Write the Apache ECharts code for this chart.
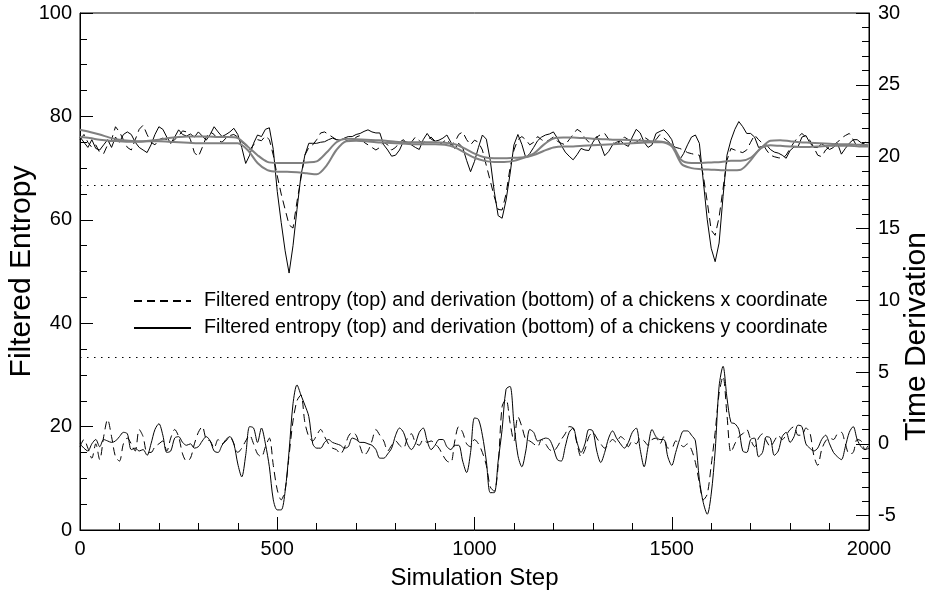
<!DOCTYPE html>
<html><head><meta charset="utf-8">
<script src="https://cdn.jsdelivr.net/npm/echarts@6/dist/echarts.min.js"></script>
<style>html,body{margin:0;padding:0;background:#fff}#c{width:935px;height:593px}</style>
</head><body><div id="c"></div>
<script>
// sampling interval (simulation steps) of the black curves and of the gray smoothed curves
const STEP = 10;
const GRAY_STEP = 25;

const xTickLabels = [0, 500, 1000, 1500, 2000];
const leftTickLabels = [0, 20, 40, 60, 80, 100];
const rightTickLabels = [-5, 0, 5, 10, 15, 20, 25, 30];
const thresholds = [66.67, 33.33];

const legendNames = [
  'Filtered entropy (top) and derivation (bottom) of a chickens x coordinate',
  'Filtered entropy (top) and derivation (bottom) of a chickens y coordinate'
];

// filtered entropy, x coordinate (dashed), steps 0..2000 every 10
const entropyX = [
  75.5, 76.5, 75.0, 74.0, 74.5, 73.0, 72.8, 74.5, 75.5, 78.0,
  77.0, 75.5, 74.0, 73.5, 75.5, 77.5, 78.3, 76.5, 75.0, 74.5,
  75.5, 75.8, 75.5, 74.8, 75.5, 76.2, 77.2, 77.0, 75.5, 73.0,
  72.2, 74.0, 76.0, 77.0, 76.5, 75.4, 75.0, 75.8, 76.3, 76.5,
  76.0, 75.0, 74.5, 73.5, 74.5, 75.5, 75.3, 76.2, 75.5, 72.5,
  68.5, 65.0, 62.0, 59.0, 58.4, 63.5, 68.0, 72.5, 74.0, 74.5,
  75.5, 76.8, 77.0, 76.5, 76.0, 75.5, 75.4, 75.6, 75.2, 75.0,
  76.0, 76.3, 75.0, 74.5, 74.0, 73.5, 74.0, 75.0, 74.5, 73.5,
  74.0, 75.0, 75.5, 74.5, 75.0, 76.0, 75.3, 74.8, 75.5, 76.0,
  75.2, 74.5, 75.0, 75.6, 74.5, 75.0, 76.5, 77.0, 75.5, 74.5,
  75.4, 75.0, 73.5, 70.5, 67.5, 64.5, 62.0, 61.9, 65.0, 70.0,
  73.5, 75.5, 76.1, 75.5, 74.5, 75.0, 76.1, 75.5, 75.0, 75.5,
  76.0, 75.2, 74.8, 74.5, 75.5, 76.5, 77.5, 77.0, 75.8, 75.0,
  75.4, 76.0, 76.5, 76.7, 75.6, 75.0, 74.6, 75.2, 76.0, 75.5,
  74.8, 75.0, 75.6, 76.0, 75.5, 74.8, 75.5, 76.5, 75.8, 75.2,
  74.5, 74.0, 73.8, 73.5, 73.0, 72.8, 72.6, 72.5, 68.5, 63.5,
  58.0, 57.0, 60.5, 66.0, 71.5, 73.8, 73.5, 73.2, 73.0, 73.5,
  75.0, 76.4, 75.5, 74.8, 73.5, 72.5, 72.2, 72.0, 71.9, 72.5,
  73.8, 75.0, 76.0, 76.7, 76.0, 75.4, 74.0, 72.5, 72.2, 73.5,
  74.1, 74.5, 75.0, 75.8, 76.3, 76.7, 75.5, 74.1, 74.5, 75.0,
  74.8
];

// filtered entropy, y coordinate (solid)
const entropyY = [
  76.0, 75.0, 74.0, 75.5, 73.8, 73.5, 74.5, 75.5, 74.0, 76.0,
  75.0, 76.5, 77.0, 76.5, 75.0, 74.0, 73.5, 73.0, 74.5, 76.5,
  78.0, 77.5, 76.0, 74.8, 76.0, 77.4, 76.5, 76.2, 76.6, 76.0,
  77.0, 76.2, 75.4, 76.5, 78.0, 77.0, 76.1, 76.5, 77.0, 77.7,
  76.5, 74.0, 70.9, 72.5, 74.8, 76.4, 76.1, 77.5, 77.8, 73.6,
  65.5, 59.5, 54.0, 49.7, 55.0, 62.0, 68.5, 72.5, 74.8, 74.8,
  74.8, 75.0, 75.1, 75.5, 75.8, 75.5, 75.4, 75.8, 76.1, 76.1,
  76.5, 76.7, 77.1, 77.4, 77.0, 76.8, 76.8, 74.5, 73.5, 72.3,
  72.5, 73.5, 75.2, 75.0, 74.5, 74.0, 73.6, 75.5, 76.7, 75.6,
  75.2, 75.4, 75.8, 76.4, 75.0, 73.8, 74.8, 74.0, 71.5, 69.3,
  71.3, 74.0, 76.4, 75.6, 71.5, 65.5, 60.8, 60.3, 63.8, 68.8,
  74.5, 76.5, 74.6, 72.0, 72.8, 74.0, 75.3, 76.0, 76.4, 76.6,
  77.0, 75.8, 74.4, 73.1, 72.3, 71.6, 72.6, 73.8, 73.5, 73.4,
  75.0, 76.1, 74.5, 72.4, 73.2, 74.5, 75.0, 75.3, 74.6, 74.2,
  76.0, 77.5, 76.8, 75.0, 74.0, 74.5, 76.7, 77.1, 77.4, 76.6,
  75.5, 73.0, 71.6, 72.8, 74.5, 76.0, 76.4, 74.8, 67.5, 60.0,
  54.5, 51.9, 55.5, 64.5, 72.5, 75.4, 77.5, 79.0, 78.0, 76.7,
  76.7, 76.0, 74.0, 74.2, 74.5, 73.6, 73.1, 72.9, 72.5, 71.9,
  73.4, 74.1, 74.1, 76.0, 76.3, 74.9, 74.0, 74.0, 74.7, 74.2,
  73.6, 74.0, 74.8, 72.7, 73.8, 74.8, 75.5, 75.5, 74.9, 74.6,
  74.3
];

// time derivation, x coordinate (dashed)
const derivX = [
  -0.2, 0.3, -0.3, -1.0, 0.0, -1.1, 0.5, 1.7, 0.5, -0.9,
  -1.2, 0.0, 0.4, 0.0, -0.5, 1.0, 0.5, -0.6, -0.6, -0.2,
  0.0, 0.2, -0.5, 0.4, 1.0, 0.5, -0.7, -1.2, -1.0, 0.0,
  0.8, 1.2, 0.3, 0.2, -0.3, 0.3, 0.0, 0.2, 0.5, 0.0,
  -0.6, -0.3, 0.2, 0.6, 0.0, -0.7, -0.9, -0.2, 0.4, -1.5,
  -3.2, -3.9, -3.2, -0.8, 1.6, 3.0, 3.4, 1.5, 0.5, 0.2,
  0.6, 1.0, 0.5, 0.0, -0.3, -0.4, -0.7, -0.3, 0.5, 0.8,
  0.6, -0.2, -0.8, -0.5, 0.2, 1.0, 0.6, 0.2, -0.5, -0.1,
  0.2, -0.1, -0.3, 0.4, 0.7, 0.1, -0.1, 0.3, 0.1, 0.2,
  0.0, -0.3, -0.8, -1.2, -1.3, 0.2, 1.2, 0.8, 0.0, -0.2,
  0.3, 0.0, -0.6, -1.5, -3.0, -3.3, -1.5, 2.6, 3.1, 1.5,
  0.2, 1.9, 1.2, 0.3, 0.2, 0.0, -0.2, 0.3, 0.0, -0.4,
  -0.5, -0.2, 0.3, 0.7, 1.2, 1.1, 0.0, -0.9, -0.4, 0.5,
  0.8, 0.4, 0.0, -0.3, 0.0, 0.3, 0.1, 0.5, 0.3, -0.2,
  0.2, 0.0, 0.4, 0.2, -0.1, 0.3, 0.4, 0.0, 0.5, -0.3,
  -0.3, 0.2, 0.0, -0.2, 0.0, -0.4, -1.3, -2.7, -3.9, -3.5,
  -1.5, 0.8, 3.5, 4.7, 2.0, -0.6, 0.0, 0.5, 0.7, 1.0,
  0.3, -0.2, 0.4, 0.7, 0.2, -0.2, 0.2, 0.6, 0.3, 0.6,
  1.0, 1.2, 0.6, 0.6, 1.1, 0.8, -0.8, -1.5, -0.4, 0.2,
  0.4, 0.3, 0.7, 0.8, 0.0, -0.7, -0.6, 0.3, 0.2, -0.4,
  0.0
];

// time derivation, y coordinate (solid)
const derivY = [
  0.0, -0.3, -0.5, 0.0, 0.3, -0.2, 0.3, 0.2, 0.1, 0.2,
  0.5, 0.8, 0.7, -0.4, -0.3, -0.5, -0.4, -0.8, 0.0, 1.0,
  1.4, 0.6, -0.6, -0.5, 0.4, 0.5, 0.1, -0.1, 0.0, -0.3,
  -0.2, 0.2, 0.5, 0.2, -0.5, -0.6, -0.1, 0.3, 0.5, 0.0,
  -1.4, -2.3, -0.8, 1.2, 1.1, 0.1, 1.1, 0.0, -1.6, -3.9,
  -4.6, -4.6, -3.3, -0.5, 2.8, 4.1, 3.4, 2.7, 1.9, 0.0,
  -0.3, -0.3, 0.1, 0.3, 0.1, 0.0, -0.1, -0.3, -0.2, 0.4,
  0.3, 0.1, 0.1, 0.0, -0.1, -0.4, -1.0, -1.0, -0.7, -0.3,
  0.6, 1.1, 0.8, 0.0, -0.4, 0.0, 0.8, 1.1, 0.2, -0.4,
  -0.1, 0.3, 0.3, -0.2, -0.4, -0.1, -0.1, -1.2, -2.0, -0.6,
  1.8, 1.7, 0.6, -1.2, -3.4, -3.4, -1.2, 1.0, 3.8, 4.0,
  1.4, -0.8, -1.6, -0.5, 1.0, 0.8, 0.2, 0.3, 0.4, 0.3,
  -0.3, -1.1, -1.2, -0.2, 0.8, 1.1, 0.1, -0.6, 0.0, 1.0,
  0.9, -0.5, -1.3, -0.6, 0.4, 0.9, 0.4, 0.0, -0.3, 0.1,
  0.8, 1.1, -0.4, -1.6, -0.2, 1.0, 0.5, 0.3, 0.3, -0.9,
  -1.5, -0.6, 0.3, 0.9, 0.9, 0.6, 0.2, -2.5, -4.1, -4.9,
  -3.5, -0.5, 4.0, 5.4, 3.2, 1.5, 1.4, 1.0, -0.5, -0.6,
  0.3, 0.4, -0.9, -0.6, 0.5, 0.4, -0.8, -0.5, 0.5, 0.8,
  0.1, 0.5, 1.3, 1.2, 0.0, -0.3, -0.5, -0.3, 0.3, 0.6,
  0.0, -0.6, -0.9, -1.1, -0.2, 0.8, 1.2, 0.3, -0.2, -0.4,
  -0.3
];

// gray smoothed entropy curves, steps 0..2000 every 25
const smoothUpper = [
  77.4, 77.0, 76.5, 75.9, 75.5, 75.3, 75.2, 75.3,
  75.5, 75.8, 76.0, 76.1, 76.1, 76.1, 76.0, 76.0,
  75.8, 74.2, 72.5, 71.2, 71.0, 71.0, 71.0, 71.1,
  71.3, 73.0, 75.0, 75.7, 75.6, 75.5, 75.4, 75.3,
  75.1, 75.0, 75.0, 75.0, 75.0, 74.9, 74.6, 73.8,
  72.8, 72.1, 71.9, 71.9, 72.0, 72.1, 72.8, 74.5,
  75.7, 75.9, 75.9, 75.8, 75.7, 75.6, 75.5, 75.5,
  75.4, 75.3, 75.2, 75.1, 74.5, 71.5, 71.0, 71.0,
  71.1, 71.2, 71.4, 71.4, 72.0, 73.8, 75.3, 75.4,
  75.2, 75.0, 74.9, 74.8, 74.7, 74.6, 74.6, 74.5,
  74.4
];
const smoothLower = [
  76.0, 75.8, 75.5, 75.3, 75.2, 75.1, 75.1, 75.2,
  75.2, 75.1, 75.0, 74.9, 74.8, 74.8, 74.8, 74.8,
  74.8, 73.5, 71.0, 69.6, 69.3, 69.3, 69.2, 69.0,
  68.8, 70.5, 73.5, 75.2, 75.3, 75.2, 75.0, 74.9,
  74.8, 74.7, 74.6, 74.6, 74.6, 74.5, 74.0, 73.0,
  72.0, 71.4, 71.2, 71.2, 71.4, 72.0, 72.5, 73.3,
  74.0, 74.2, 74.2, 74.3, 74.4, 74.5, 74.6, 74.7,
  74.8, 74.9, 75.0, 75.0, 74.2, 70.8, 70.0, 69.8,
  69.7, 69.6, 69.6, 69.7, 71.5, 73.8, 74.4, 74.3,
  74.2, 74.1, 74.1, 74.2, 74.3, 74.3, 74.3, 74.2,
  74.2
];

const pairs = (arr, step) => arr.map((v, i) => [i * step, v]);

const FONT = "'Liberation Sans', Arial, Helvetica, sans-serif";
const BLACK = '#000';
const DASH = [8, 5];

const chart = echarts.init(document.getElementById('c'), null, {renderer: 'canvas'});

const tickStyle = {color: BLACK, width: 1};
const labelStyle = {color: BLACK, fontSize: 20, fontFamily: FONT, formatter: v => String(v)};

chart.setOption({
  animation: false,
  backgroundColor: '#fff',
  textStyle: {fontFamily: FONT, color: BLACK},
  grid: {left: 80, right: 66, top: 13, bottom: 63, outerBoundsMode: 'none', containLabel: false,
         show: true, borderColor: BLACK, borderWidth: 1, backgroundColor: 'transparent'},
  legend: {
    data: legendNames,
    orient: 'vertical',
    left: 133, top: 291,
    padding: 0,
    itemWidth: 57, itemHeight: 14, itemGap: 7,
    selectedMode: false,
    itemStyle: {opacity: 0},
    textStyle: {fontSize: 19.7, color: BLACK, fontFamily: FONT, padding: [0, 0, 0, 8]}
  },
  xAxis: {
    type: 'value', min: 0, max: 2000, interval: 500,
    name: 'Simulation Step', nameLocation: 'middle', nameGap: 36,
    nameTextStyle: {fontSize: 24, color: BLACK, fontFamily: FONT},
    axisLine: {show: true, lineStyle: {color: BLACK, width: 1}},
    axisTick: {show: true, inside: true, length: 13, lineStyle: tickStyle,
               customValues: xTickLabels},
    minorTick: {show: true, splitNumber: 5, length: 7, lineStyle: tickStyle},
    axisLabel: Object.assign({margin: 9, customValues: xTickLabels}, labelStyle),
    splitLine: {show: false}
  },
  yAxis: [
    {
      type: 'value', min: 0, max: 100, interval: 20, position: 'left',
      name: 'Filtered Entropy', nameLocation: 'middle', nameGap: 58, nameRotate: 90,
      nameMoveOverlap: false,
      nameTextStyle: {fontSize: 30, color: BLACK, fontFamily: FONT, verticalAlign: 'middle'},
      axisLine: {show: true, lineStyle: {color: BLACK, width: 1}},
      axisTick: {show: true, inside: true, length: 13, lineStyle: tickStyle},
      minorTick: {show: true, splitNumber: 4, length: 7, lineStyle: tickStyle},
      axisLabel: Object.assign({margin: 8, customValues: leftTickLabels}, labelStyle),
      splitLine: {show: false}
    },
    {
      type: 'value', min: -6, max: 30, position: 'right',
      name: 'Time Derivation', nameLocation: 'middle', nameGap: 48, nameRotate: 90,
      nameMoveOverlap: false,
      nameTextStyle: {fontSize: 30, color: BLACK, fontFamily: FONT, verticalAlign: 'middle', padding: [0, 130, 0, 0]},
      axisLine: {show: true, lineStyle: {color: BLACK, width: 1}},
      axisTick: {show: true, inside: true, length: 13, lineStyle: tickStyle, customValues: rightTickLabels},
      axisLabel: Object.assign({margin: 9, customValues: rightTickLabels}, labelStyle),
      splitLine: {show: false}
    },
    {
      // minor ticks of the right axis (every unit)
      type: 'value', min: -6, max: 30, interval: 1, position: 'right',
      axisLine: {show: false},
      axisTick: {show: true, inside: true, length: 7, lineStyle: tickStyle},
      axisLabel: {show: false},
      splitLine: {show: false}
    }
  ],
  series: [
    {
      name: legendNames[0], type: 'line', yAxisIndex: 0, data: pairs(entropyX, STEP),
      symbol: 'none', showSymbol: false, silent: true,
      lineStyle: {color: BLACK, width: 1, type: DASH}, itemStyle: {color: BLACK},
      markLine: {
        silent: true, symbol: ['none', 'none'], label: {show: false},
        lineStyle: {color: BLACK, width: 1.2, type: [1.5, 5.5]},
        data: thresholds.map(v => ({yAxis: v}))
      }
    },
    {
      name: legendNames[0], type: 'line', yAxisIndex: 1, data: pairs(derivX, STEP),
      symbol: 'none', showSymbol: false, silent: true, smooth: 0.3,
      lineStyle: {color: BLACK, width: 1, type: DASH}, itemStyle: {color: BLACK}
    },
    {
      name: legendNames[1], type: 'line', yAxisIndex: 0, data: pairs(entropyY, STEP),
      symbol: 'none', showSymbol: false, silent: true,
      lineStyle: {color: BLACK, width: 1}, itemStyle: {color: BLACK}
    },
    {
      name: legendNames[1], type: 'line', yAxisIndex: 1, data: pairs(derivY, STEP),
      symbol: 'none', showSymbol: false, silent: true, smooth: 0.3,
      lineStyle: {color: BLACK, width: 1}, itemStyle: {color: BLACK}
    },
    {
      name: 'smoothed upper', type: 'line', yAxisIndex: 0, data: pairs(smoothUpper, GRAY_STEP),
      symbol: 'none', showSymbol: false, silent: true, smooth: 0.3,
      lineStyle: {color: '#808080', width: 2}, itemStyle: {color: '#808080'}
    },
    {
      name: 'smoothed lower', type: 'line', yAxisIndex: 0, data: pairs(smoothLower, GRAY_STEP),
      symbol: 'none', showSymbol: false, silent: true, smooth: 0.3,
      lineStyle: {color: '#808080', width: 2}, itemStyle: {color: '#808080'}
    }
  ]
});
</script></body></html>
